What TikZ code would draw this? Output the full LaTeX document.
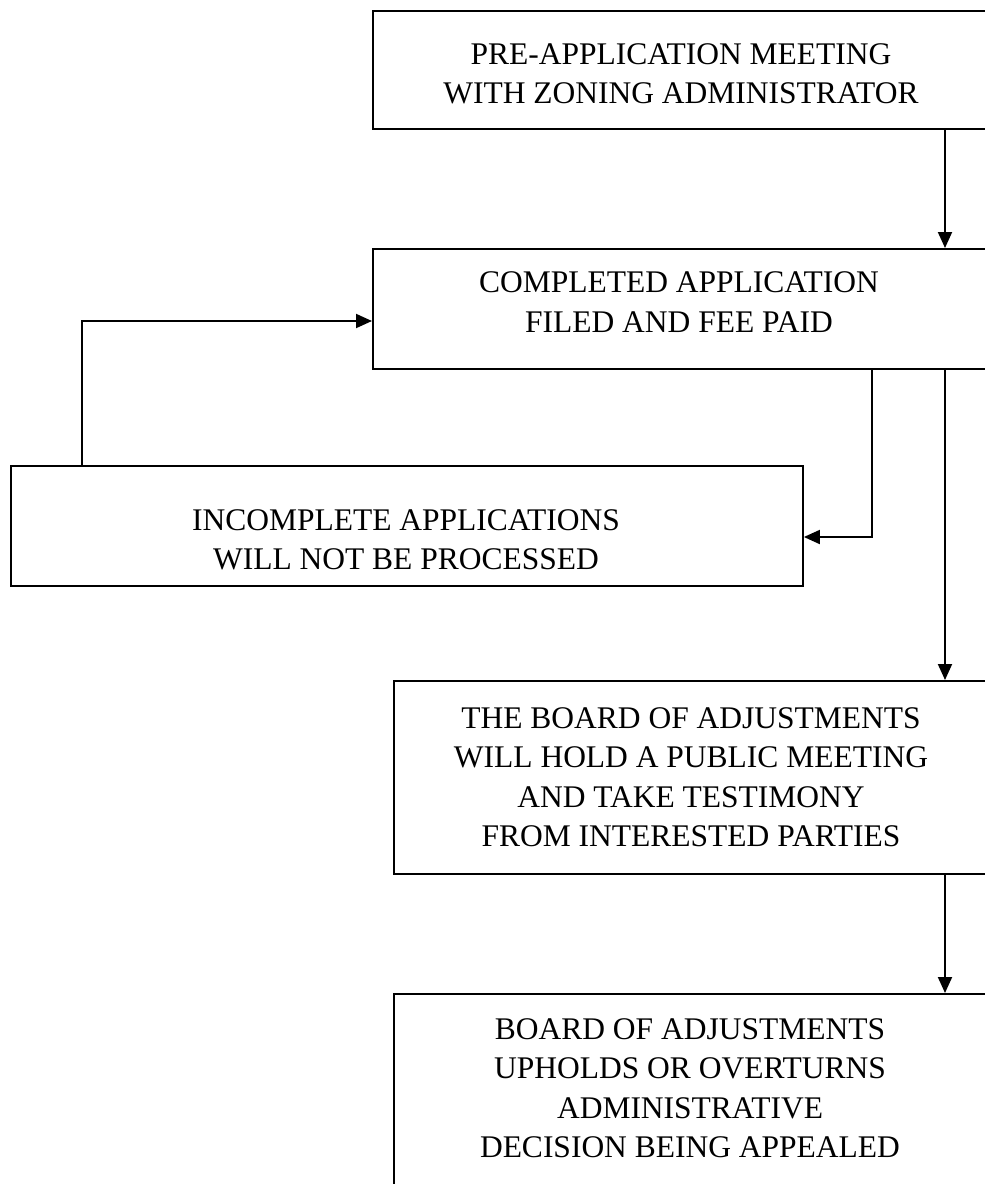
\documentclass[tikz,border=0pt]{standalone}
\usepackage{fontspec}
\setmainfont{Liberation Serif}
\usetikzlibrary{arrows.meta}
\begin{document}
\begin{tikzpicture}[x=1pt,y=-1pt,
  box/.style={draw, line width=1.9pt, rectangle, inner sep=0pt, anchor=north west},
  txt/.style={font=\fontsize{31.5}{39.5}\selectfont, align=center, inner sep=0pt},
  conn/.style={line width=1.9pt, -{Triangle[length=16pt,width=14pt]}}]
\useasboundingbox (0,0) rectangle (985,1184);
\clip (0,0) rectangle (985,1184);
% boxes
\node[box, minimum width=618pt, minimum height=118pt] (b1) at (372,10) {};
\node[box, minimum width=618pt, minimum height=120pt] (b2) at (372,248) {};
\node[box, minimum width=792pt, minimum height=120pt] (b3) at (10,465) {};
\node[box, minimum width=597pt, minimum height=193pt] (b4) at (393,680) {};
\node[box, minimum width=597pt, minimum height=210pt] (b5) at (393,993) {};
% texts
\node[txt] (t1) at (681,74) {PRE-APPLICATION MEETING\\WITH ZONING ADMINISTRATOR};
\node[txt] (t2) at (679,302) {COMPLETED APPLICATION\\FILED AND FEE PAID};
\node[txt] (t3) at (406,540) {INCOMPLETE APPLICATIONS\\WILL NOT BE PROCESSED};
\node[txt] (t4) at (691,777) {THE BOARD OF ADJUSTMENTS\\WILL HOLD A PUBLIC MEETING\\AND TAKE TESTIMONY\\FROM INTERESTED PARTIES};
\node[txt] (t5) at (690,1088) {BOARD OF ADJUSTMENTS\\UPHOLDS OR OVERTURNS\\ADMINISTRATIVE\\DECISION BEING APPEALED};
% connectors
\coordinate (xm) at (945,0);
\coordinate (k1) at (872,537);
\coordinate (k2) at (82,321);
\draw[conn] (b1.south -| xm) -- (b2.north -| xm);
\draw[conn] (b2.south -| xm) -- (b4.north -| xm);
\draw[conn] (b4.south -| xm) -- (b5.north -| xm);
\draw[conn] (b2.south -| k1) -- (k1) -- (k1 -| b3.east);
\draw[conn] (b3.north -| k2) -- (k2) -- (k2 -| b2.west);
\end{tikzpicture}
\end{document}
